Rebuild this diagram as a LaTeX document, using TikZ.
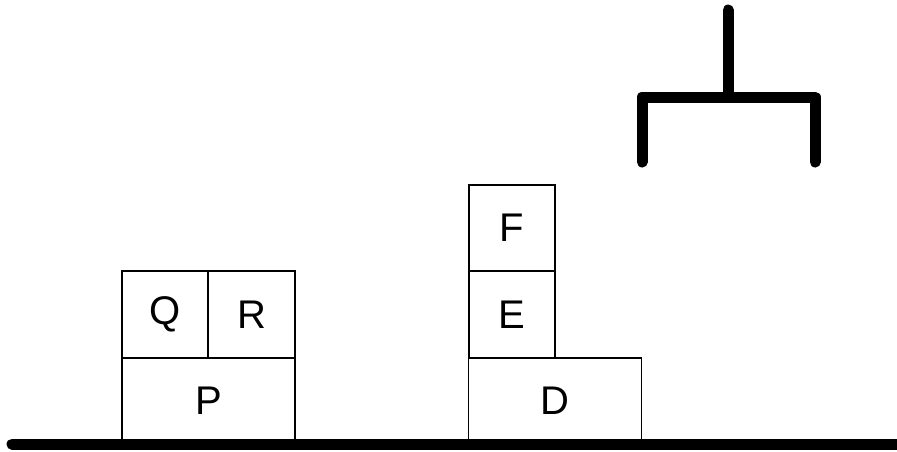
\documentclass[tikz,border=0pt]{standalone}
\usepackage{fontspec}
\setmainfont{Liberation Sans}
\usetikzlibrary{positioning}

\tikzset{
  block/.style={draw, line width=0.9pt, inner sep=0pt, minimum width=43.25pt,
    minimum height=43.25pt, font=\fontsize{20}{24}\selectfont},
  wideblock/.style={block, minimum width=86.5pt},
  thick line/.style={line width=5.5pt, line cap=round, line join=round}
}

\begin{document}
\begin{tikzpicture}[x=0.5pt,y=-0.5pt]
  \useasboundingbox (0,0) rectangle (897,451);
  % blocks on the left
  \node[wideblock] (P) at (208.5,401)   {P};
  \node[block]     (Q) at (165,314.5)   {Q};
  \node[block]     (R) at (251.5,314.5) {R};
  % stack in the middle
  \node[wideblock] (D) at (555,401)   {D};
  \node[block]     (E) at (512,314.5) {E};
  \node[block]     (F) at (512,228)   {F};
  % table
  \coordinate (tl) at (12,444);
  \coordinate (tr) at (910,444);
  \draw[thick line] (tl) -- (tr);
  % gripper
  \coordinate (top)  at (728,10);
  \coordinate (mid)  at (728,97);
  \coordinate (hl)   at (642,97);
  \coordinate (hr)   at (815,97);
  \coordinate (fl)   at (642,162);
  \coordinate (fr)   at (815,162);
  \draw[thick line] (top) -- (mid);
  \draw[thick line] (fl) -- (hl) -- (hr) -- (fr);
\end{tikzpicture}
\end{document}
